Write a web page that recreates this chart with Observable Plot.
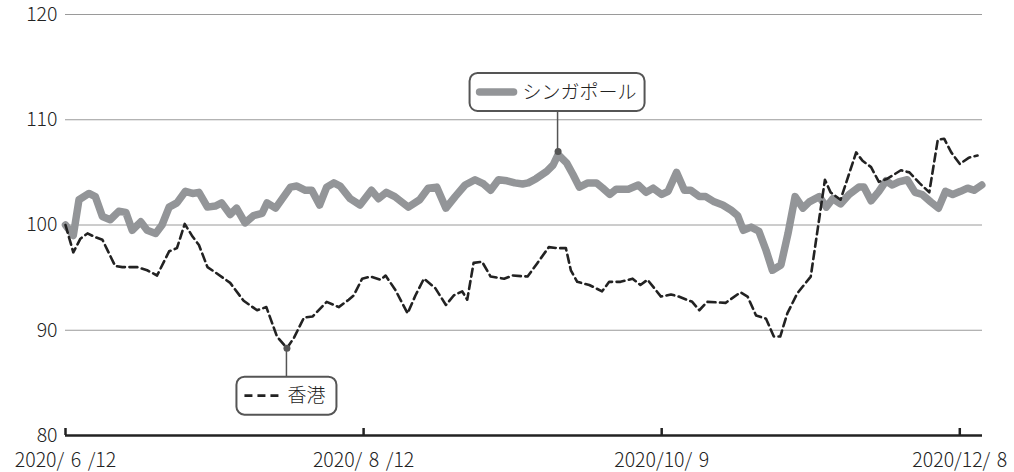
<!DOCTYPE html>
<html><head><meta charset="utf-8">
<script src="https://cdn.jsdelivr.net/npm/d3@7"></script>
<script src="https://cdn.jsdelivr.net/npm/@observablehq/plot@0.6"></script>
<style>body{margin:0;background:#fff;}</style>
</head><body><div id="chart"></div>
<script>
// trading-day index (0 = 2020/6/12) and index values
const sgDay = [0,1.1,1.9,3.3,4.2,5.2,6.3,7.5,8.5,9.4,10.6,11.5,12.7,13.6,14.6,15.7,16.9,17.9,18.8,20.0,21.1,22.0,23.2,24.1,25.3,26.5,27.7,28.4,29.6,31.7,32.6,33.8,34.7,35.8,36.8,37.8,38.7,40.1,41.5,43.1,44.1,45.2,46.4,48.3,49.9,51.1,52.3,53.6,54.9,56.3,57.7,58.9,59.9,61.0,62.2,63.3,64.4,65.2,66.3,67.8,68.7,69.4,70.6,71.5,72.4,73.6,74.8,75.7,76.7,77.6,79.3,80.7,81.8,82.8,84.0,84.9,86.1,87.2,88.1,89.3,90.2,91.4,92.6,93.8,94.7,95.5,96.6,97.7,98.7,99.6,100.8,101.8,102.8,103.9,104.8,106.2,107.2,108.1,109.2,110.4,111.8,112.5,113.5,114.6,115.6,116.5,117.4,118.6,119.7,120.7,121.9,123.0,124.0,125.0,126.1,127.1,128.0,129.1];
const sgValue = [100.0,99.0,102.4,103.0,102.7,100.8,100.5,101.3,101.2,99.5,100.3,99.5,99.2,100.0,101.7,102.1,103.2,103.0,103.1,101.7,101.8,102.1,101.0,101.6,100.2,100.9,101.1,102.1,101.6,103.6,103.7,103.3,103.3,101.9,103.6,104.0,103.7,102.5,101.9,103.3,102.5,103.1,102.7,101.7,102.4,103.5,103.6,101.6,102.7,103.8,104.3,103.9,103.3,104.3,104.2,104.0,103.9,104.0,104.4,105.1,105.7,106.7,105.9,104.8,103.6,104.0,104.0,103.5,102.9,103.4,103.4,103.8,103.1,103.5,102.9,103.2,105.0,103.3,103.3,102.7,102.7,102.2,101.9,101.4,100.9,99.5,99.8,99.4,97.6,95.7,96.2,99.2,102.7,101.6,102.2,102.7,101.7,102.5,102.0,102.9,103.6,103.6,102.3,103.2,104.2,103.8,104.1,104.3,103.1,102.9,102.2,101.6,103.2,102.9,103.2,103.5,103.3,103.8];
const hkDay = [0,1.1,2.1,3.1,4.0,5.2,7.0,8.0,10.1,11.5,12.9,14.6,15.7,16.8,17.9,18.8,20.0,21.1,23.2,25.1,27.0,28.3,29.8,31.2,32.2,33.6,34.8,36.8,38.5,39.9,40.6,41.8,43.0,44.4,45.1,46.5,48.2,49.3,50.5,52.1,53.6,54.7,55.9,56.6,57.5,58.7,59.9,61.8,63.0,65.1,66.5,68.1,69.3,70.5,71.2,72.1,73.8,75.6,76.6,78.2,79.9,81.0,82.0,83.9,85.3,86.4,88.3,89.3,90.4,93.0,95.1,96.1,97.3,98.7,99.8,100.7,101.7,103.1,105.0,107.0,107.8,109.2,111.4,112.3,113.5,114.6,115.8,117.7,118.9,120.3,121.7,122.9,123.8,124.8,126.0,127.3,128.5];
const hkValue = [100.0,97.4,98.7,99.2,98.9,98.6,96.1,96.0,96.0,95.7,95.2,97.5,97.8,100.1,98.9,98.1,96.0,95.5,94.5,92.8,91.9,92.2,89.4,88.3,89.3,91.2,91.3,92.7,92.2,92.9,93.3,94.9,95.1,94.8,95.2,93.8,91.6,93.3,94.9,94.0,92.4,93.3,93.7,92.9,96.4,96.5,95.1,94.9,95.2,95.1,96.4,97.9,97.8,97.8,95.7,94.6,94.3,93.7,94.6,94.6,94.9,94.3,94.8,93.2,93.4,93.2,92.7,91.9,92.7,92.6,93.6,93.2,91.4,91.1,89.4,89.4,91.6,93.5,95.1,104.3,103.1,102.4,106.9,106.1,105.5,104.1,104.4,105.2,105.0,104.0,103.1,108.1,108.2,106.9,105.8,106.4,106.6];
const tickDays = [0, 42, 84, 126];
const tickLabels = ["2020/\u20046\u2004/12", "2020/\u20048\u2004/12", "2020/10/\u20049", "2020/12/\u20048"];
const yTicks = [80, 90, 100, 110, 120];
const gridValues = [90, 100, 110, 120];
const seriesNames = ["シンガポール", "香港"];

const sg = sgDay.map((d, i) => ({day: d, value: sgValue[i]}));
const hk = hkDay.map((d, i) => ({day: d, value: hkValue[i]}));
const sgPeak = sg[d3.maxIndex(sg, d => d.value)];
const hkLow = hk[d3.minIndex(hk, d => d.value)];

const FONT = "'Noto Sans CJK JP', 'Noto Sans', sans-serif";
const SG_COLOR = "#939598";
const HK_COLOR = "#222";

const chart = Plot.plot({
  width: 1014, height: 472,
  marginLeft: 65, marginRight: 32, marginTop: 14, marginBottom: 37,
  style: {fontFamily: FONT, fontSize: "19.5px", fontWeight: 300, color: "#222", background: "#fff", overflow: "visible"},
  x: {domain: [0, 129.2]},
  y: {domain: [80, 120]},
  marks: [
    Plot.ruleY(gridValues, {stroke: "#9a9a9a", strokeWidth: 1}),
    Plot.axisY({ticks: yTicks, tickSize: 0, tickPadding: 8, label: null}),
    Plot.line(sg, {x: "day", y: "value", stroke: SG_COLOR, strokeWidth: 7.5, strokeLinejoin: "round", strokeLinecap: "round"}),
    Plot.line(hk, {x: "day", y: "value", stroke: HK_COLOR, strokeWidth: 2.6, strokeDasharray: "8,4.5", strokeLinejoin: "round"}),
    Plot.ruleY([80], {stroke: HK_COLOR, strokeWidth: 2.5}),
    Plot.axisX({ticks: tickDays, tickSize: -7, tickFormat: () => "", stroke: HK_COLOR, strokeWidth: 2.5, label: null}),
    Plot.axisX({ticks: tickDays, tickSize: 0, tickPadding: 18, tickFormat: d => tickLabels[tickDays.indexOf(d)], label: null}),
    Plot.dot([sgPeak], {x: "day", y: "value", r: 3.5, fill: "#555", dy: -3}),
    Plot.dot([hkLow], {x: "day", y: "value", r: 3.5, fill: "#555"})
  ]
});
document.getElementById("chart").appendChild(chart);

// annotation callouts anchored on the data points
const sx = chart.scale("x"), sy = chart.scale("y");
const svg = d3.select(chart);
const g = svg.append("g").attr("font-family", FONT).attr("font-size", 19).attr("font-weight", 300)
  .attr("fill", "#222").attr("text-anchor", "start");

// Singapore callout (above peak)
{
  const px = sx.apply(sgPeak.day), py = sy.apply(sgPeak.value) - 3;
  g.append("line").attr("x1", px).attr("x2", px).attr("y1", py).attr("y2", py - 40).attr("stroke", "#555").attr("stroke-width", 1.5);
  g.append("rect").attr("x", px - 88).attr("y", py - 78).attr("width", 175).attr("height", 38).attr("rx", 8)
    .attr("fill", "#fff").attr("stroke", "#555").attr("stroke-width", 2);
  g.append("line").attr("x1", px - 78).attr("x2", px - 44).attr("y1", py - 59).attr("y2", py - 59)
    .attr("stroke", SG_COLOR).attr("stroke-width", 7.5).attr("stroke-linecap", "round");
  g.append("text").attr("x", px - 35).attr("y", py - 59).attr("dy", "0.36em").attr("text-anchor", "start").text(seriesNames[0]);
}
// Hong Kong callout (below low)
{
  const px = sx.apply(hkLow.day), py = sy.apply(hkLow.value);
  g.append("line").attr("x1", px).attr("x2", px).attr("y1", py).attr("y2", py + 29).attr("stroke", "#555").attr("stroke-width", 1.5);
  g.append("rect").attr("x", px - 50).attr("y", py + 29).attr("width", 100).attr("height", 38).attr("rx", 8)
    .attr("fill", "#fff").attr("stroke", "#555").attr("stroke-width", 2);
  g.append("line").attr("x1", px - 42).attr("x2", px - 8).attr("y1", py + 48).attr("y2", py + 48)
    .attr("stroke", HK_COLOR).attr("stroke-width", 2.6).attr("stroke-dasharray", "8,5");
  g.append("text").attr("x", px + 1).attr("y", py + 48).attr("dy", "0.36em").attr("text-anchor", "start").text(seriesNames[1]);
}
</script>
</body></html>
